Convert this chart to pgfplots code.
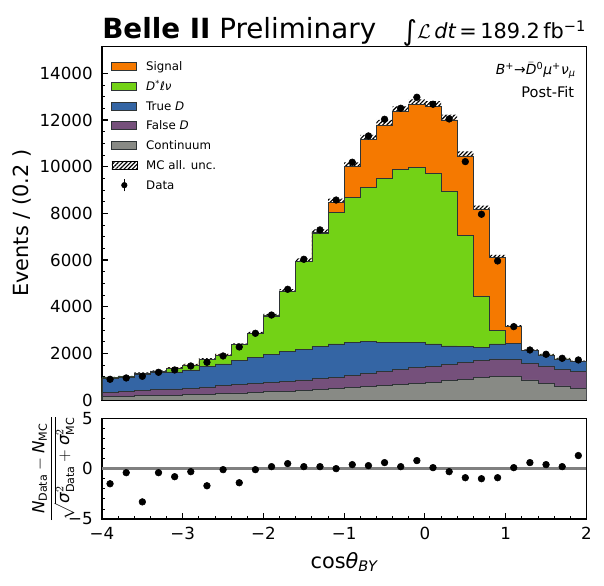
\documentclass[border=0pt]{standalone}
\usepackage{fontspec}
\setmainfont{DejaVu Sans}
\usepackage{amsmath}
\usepackage{pgfplots}
\pgfplotsset{compat=1.18}
\usepackage{pgfplotstable}
\usepgfplotslibrary{fillbetween}
\usetikzlibrary{patterns.meta}

\definecolor{sigc}{HTML}{F57900}
\definecolor{dstc}{HTML}{73D216}
\definecolor{trdc}{HTML}{3465A4}
\definecolor{fldc}{HTML}{75507B}
\definecolor{conc}{HTML}{888A85}
\definecolor{edgc}{HTML}{2E3436}

\pgfplotstableread{
x tot grn blu pur gry err
-4.0 957 945 925 330 140 32
-3.8 1000 990 960 370 150 33
-3.6 1143 1135 1086 414 180 36
-3.4 1229 1220 1172 443 185 38
-3.2 1371 1365 1200 472 190 40
-3.0 1500 1495 1286 500 240 44
-2.8 1743 1735 1443 557 245 48
-2.6 1929 1920 1543 614 270 52
-2.4 2372 2365 1686 660 300 58
-2.2 2858 2850 1829 700 320 65
-2.0 3610 3600 1958 740 350 78
-1.8 4650 4640 2072 810 380 98
-1.6 5950 5930 2172 860 415 118
-1.4 7180 7150 2286 910 440 136
-1.2 8470 8040 2400 970 480 160
-1.0 10000 8688 2472 1050 525 185
-0.8 11160 9115 2510 1120 570 205
-0.6 11790 9500 2480 1230 615 218
-0.4 12360 9889 2475 1310 655 228
-0.2 12650 9974 2475 1380 720 234
0.0 12575 9717 2400 1450 770 232
0.2 12004 8960 2315 1520 820 222
0.4 10460 7045 2286 1610 880 195
0.6 8174 4458 2258 1710 950 158
0.8 6102 2972 2400 1760 1000 118
1.0 3144 2430 2430 1720 1000 66
1.2 2115 2115 2115 1570 860 50
1.4 1929 1929 1929 1460 715 46
1.6 1758 1758 1758 1320 600 44
1.8 1643 1643 1643 1240 500 42
2.0 1643 1643 1643 1240 500 42
}\stack

\pgfplotstableread{
xc d de p
-3.9 886 30 -1.5
-3.7 943 31 -0.4
-3.5 1015 32 -3.3
-3.3 1186 34 -0.4
-3.1 1286 36 -0.8
-2.9 1457 38 -0.3
-2.7 1615 40 -1.7
-2.5 1886 43 -0.1
-2.3 2272 48 -1.4
-2.1 2858 53 -0.1
-1.9 3640 60 0.2
-1.7 4744 69 0.5
-1.5 6030 78 0.2
-1.3 7290 85 0.2
-1.1 8570 93 0.0
-0.9 10190 101 0.4
-0.7 11317 106 0.3
-0.5 12032 110 0.6
-0.3 12504 112 0.2
-0.1 12975 114 0.8
0.1 12675 113 0.1
0.3 12046 110 -0.3
0.5 10217 101 -0.9
0.7 7960 89 -1.0
0.9 5959 77 -0.9
1.1 3144 56 0.1
1.3 2143 46 0.6
1.5 1958 44 0.4
1.7 1786 42 0.2
1.9 1715 41 1.3
}\data

\pgfplotsset{
  belle/.style={
    scale only axis, width=348.8pt,
    xmin=-4, xmax=2, xtick={-4,...,2}, minor x tick num=4,
    tick align=inside, tick pos=left,
    scaled ticks=false,
    axis line style={line width=0.8pt},
    every tick/.style={black, line width=0.8pt},
    every minor tick/.append style={line width=0.6pt},
    major tick length=4pt, minor tick length=2.2pt,
    ticklabel style={font=\fontsize{12}{14}\selectfont},
    yticklabel style={xshift=-3.2pt},
    xticklabel style={yshift=-2.5pt},
  }
}

\newcommand{\itx}[1]{\text{\itshape #1}}

\begin{document}
\begin{tikzpicture}

% ---------- lower (pull) panel ----------
\begin{axis}[belle, name=low, at={(0pt,0pt)}, anchor=south west,
  height=72.5pt,
  ymin=-5, ymax=5, ytick={-5,0,5}, yticklabels={−5,0,5},
  minor y tick num=4,
  xticklabels={−4,−3,−2,−1,0,1,2},
  xlabel={cos{\itshape θ}\textsubscript{\itshape BY}},
  xlabel style={font=\fontsize{15}{18}\selectfont, at={(axis description cs:0.5,-0.4276)}, anchor=center},
  ylabel={$\dfrac{\itx{N}_{\text{Data}}-\itx{N}_{\text{MC}}}{\sqrt{\itx{σ}^2_{\text{Data}}+\itx{σ}^2_{\text{MC}}}}$},
  ylabel style={font=\fontsize{12}{14}\selectfont, at={(axis description cs:-0.1003,0.5)}, anchor=center},
]
\addplot[color=gray, line width=1.8pt, forget plot] coordinates {(-4,0) (2,0)};
\addplot[only marks, mark=*, mark size=2.4pt, black] table[x=xc, y=p] {\data};
\end{axis}

% ---------- main panel ----------
\begin{axis}[belle, name=main, at={(0pt,85.7pt)}, anchor=south west,
  height=254.5pt,
  ymin=0, ymax=15150,
  ytick={0,2000,...,14000},
  yticklabels={0,2000,4000,6000,8000,10000,12000,14000},
  minor y tick num=3,
  xticklabels={},
  ylabel={Events / (0.2 )},
  ylabel style={font=\fontsize{15}{18}\selectfont, at={(axis description cs:-0.1653,0.5)}, anchor=center},
  legend cell align=left,
  legend style={at={(axis description cs:0.019,0.968)}, anchor=north west,
    draw=none, fill=none, inner sep=0pt, row sep=2.25pt,
    font=\fontsize{8.5}{10}\selectfont,
    nodes={inner sep=1pt, text height=8pt, text depth=2pt},
    /tikz/every odd column/.append style={column sep=5.5pt}},
]
\addplot[const plot mark left, fill=sigc, draw=edgc, line width=0.5pt, forget plot] table[x=x, y=tot] {\stack} \closedcycle;
\addplot[const plot mark left, fill=dstc, draw=edgc, line width=0.5pt, forget plot] table[x=x, y=grn] {\stack} \closedcycle;
\addplot[const plot mark left, fill=trdc, draw=edgc, line width=0.5pt, forget plot] table[x=x, y=blu] {\stack} \closedcycle;
\addplot[const plot mark left, fill=fldc, draw=edgc, line width=0.5pt, forget plot] table[x=x, y=pur] {\stack} \closedcycle;
\addplot[const plot mark left, fill=conc, draw=edgc, line width=0.5pt, forget plot] table[x=x, y=gry] {\stack} \closedcycle;

\addplot[const plot mark left, draw=none, name path=hi, forget plot] table[x=x, y expr=\thisrow{tot}+\thisrow{err}] {\stack};
\addplot[const plot mark left, draw=none, name path=lo, forget plot] table[x=x, y expr=\thisrow{tot}-\thisrow{err}] {\stack};
\addplot[pattern={Lines[angle=45, distance=2.1pt, line width=0.85pt]}, pattern color=black, draw=none, forget plot] fill between[of=hi and lo];

\addplot[only marks, mark=*, mark size=2.4pt, black, forget plot,
  error bars/.cd, y dir=both, y explicit, error bar style={line width=0.8pt, black}, error mark=none]
  table[x=xc, y=d, y error=de] {\data};

\addlegendimage{legend image code/.code={\draw[fill=sigc, draw=edgc, line width=0.5pt] (0pt,-2.9pt) rectangle (18pt,2.9pt);}}
\addlegendentry{Signal}
\addlegendimage{legend image code/.code={\draw[fill=dstc, draw=edgc, line width=0.5pt] (0pt,-2.9pt) rectangle (18pt,2.9pt);}}
\addlegendentry{{\itshape D}\textsuperscript{*}{\itshape ℓν}}
\addlegendimage{legend image code/.code={\draw[fill=trdc, draw=edgc, line width=0.5pt] (0pt,-2.9pt) rectangle (18pt,2.9pt);}}
\addlegendentry{True {\itshape D}}
\addlegendimage{legend image code/.code={\draw[fill=fldc, draw=edgc, line width=0.5pt] (0pt,-2.9pt) rectangle (18pt,2.9pt);}}
\addlegendentry{False {\itshape D}}
\addlegendimage{legend image code/.code={\draw[fill=conc, draw=edgc, line width=0.5pt] (0pt,-2.9pt) rectangle (18pt,2.9pt);}}
\addlegendentry{Continuum}
\addlegendimage{legend image code/.code={\path[pattern={Lines[angle=45, distance=2.1pt, line width=0.85pt]}, pattern color=black] (0pt,-2.9pt) rectangle (18pt,2.9pt);}}
\addlegendentry{MC all. unc.}
\addlegendimage{legend image code/.code={\draw[black, line width=0.8pt] (9pt,-4.5pt) -- (9pt,4.5pt); \fill[black] (9pt,0pt) circle (2pt);}}
\addlegendentry{Data}
\end{axis}

\node[anchor=base west, inner sep=0pt, font=\fontsize{20}{24}\selectfont] at ([yshift=5.8pt]main.north west) {\textbf{Belle II} Preliminary};
\node[anchor=base east, inner sep=0pt, font=\fontsize{15}{18}\selectfont] at ([yshift=5.8pt]main.north east)
  {\raisebox{-1.5pt}{\fontsize{20}{20}\selectfont ∫}$\mathcal{L}$\,{\itshape dt}\,=\,189.2\,fb\textsuperscript{−1}};
\node[anchor=east, inner sep=0pt, font=\fontsize{10}{12}\selectfont] at ([xshift=-7.5pt,yshift=-17pt]main.north east)
  {{\itshape B}\textsuperscript{+}→$\bar{\text{\itshape D}}$\textsuperscript{0}{\itshape μ}\textsuperscript{+}{\itshape ν}\textsubscript{\itshape μ}};
\node[anchor=east, inner sep=0pt, font=\fontsize{10.5}{12}\selectfont] at ([xshift=-8.6pt,yshift=-32.8pt]main.north east) {Post-Fit};

\pgfresetboundingbox
\useasboundingbox (-73.44pt,-48.24pt) rectangle (361.46pt,373.7pt);
\end{tikzpicture}
\end{document}
